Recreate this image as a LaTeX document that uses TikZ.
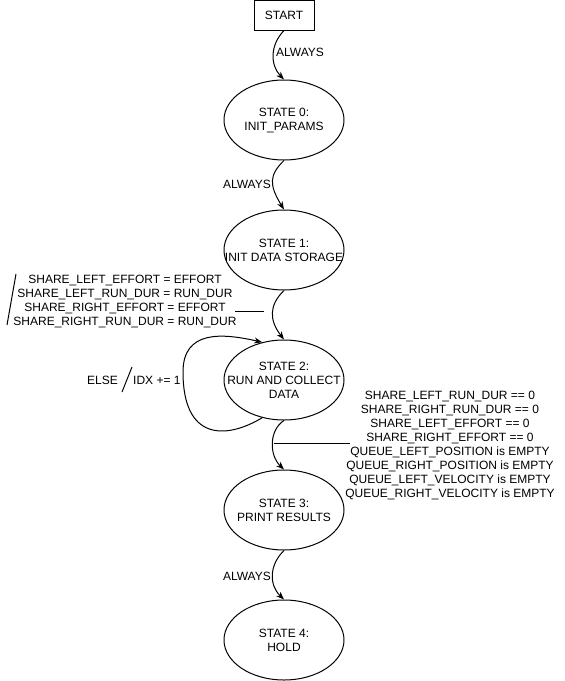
\documentclass[tikz,border=0pt]{standalone}
\usepackage{fontspec}
\setmainfont{Liberation Sans}
\usetikzlibrary{shapes.geometric,arrows.meta}
\begin{document}
\begin{tikzpicture}[x=1pt,y=-1pt,
  every node/.style={font=\fontsize{12}{14}\selectfont},
  statebox/.style={draw,line width=1pt,ellipse,minimum width=120pt,minimum height=80pt,inner sep=0pt},
  startbox/.style={draw,line width=1pt,minimum width=60pt,minimum height=30pt,inner sep=0pt},
  lbl/.style={inner sep=0pt,align=center},
  arr/.style={line width=1pt,-{Stealth[length=8pt,width=6pt,inset=2.5pt]}},
  plain/.style={line width=1pt}]
\useasboundingbox (0,0) rectangle (565,681);
\node[startbox] (start) at (284,15) {START};
\node[statebox,label={[lbl]center:STATE 0:\\INIT\_PARAMS}] (s0) at (284,120) {};
\node[statebox,label={[lbl]center:STATE 1:\\INIT DATA STORAGE}] (s1) at (284,250) {};
\node[statebox,label={[lbl]center:STATE 2:\\RUN AND COLLECT\\DATA}] (s2) at (284,380) {};
\node[statebox,label={[lbl]center:STATE 3:\\PRINT RESULTS}] (s3) at (284,510) {};
\node[statebox,label={[lbl]center:STATE 4:\\HOLD}] (s4) at (284,640) {};

\draw[arr] (start.south) .. controls (270,45) and (270,65) .. (s0.north);
\node[lbl,anchor=west] (l0) at (276,52) {ALWAYS};

\draw[arr] (s0.south) .. controls (269,175) and (269,185) .. (s1.north);
\node[lbl,anchor=east] (l1) at (271,184) {ALWAYS};

\draw[arr] (s1.south) .. controls (269,305) and (269,320) .. (s2.north);
\node[lbl] (l2) at (125,301) {SHARE\_LEFT\_EFFORT = EFFORT\\SHARE\_LEFT\_RUN\_DUR = RUN\_DUR\\SHARE\_RIGHT\_EFFORT = EFFORT\\SHARE\_RIGHT\_RUN\_DUR = RUN\_DUR};
\coordinate (l2a) at (7,325);
\coordinate (l2b) at (16,274);
\draw[plain] (l2a) -- (l2b);
\coordinate (l2c) at (235,311);
\coordinate (l2d) at (264,311);
\draw[plain] (l2c) -- (l2d);

\draw[arr] (s2.240) .. controls (225,440) and (183,440) .. (183,372) .. controls (183,330) and (222,333) .. (s2.120);
\node[lbl,anchor=east] (else) at (118,380) {ELSE};
\node[lbl,anchor=west] (idx) at (133,380) {IDX += 1};
\coordinate (sl1) at (122,392);
\coordinate (sl2) at (132,367);
\draw[plain] (sl1) -- (sl2);

\draw[arr] (s2.south) .. controls (269,430) and (269,455) .. (s3.north);
\node[lbl] (l3) at (450,445) {SHARE\_LEFT\_RUN\_DUR == 0\\SHARE\_RIGHT\_RUN\_DUR == 0\\SHARE\_LEFT\_EFFORT == 0\\SHARE\_RIGHT\_EFFORT == 0\\QUEUE\_LEFT\_POSITION is EMPTY\\QUEUE\_RIGHT\_POSITION is EMPTY\\QUEUE\_LEFT\_VELOCITY is EMPTY\\QUEUE\_RIGHT\_VELOCITY is EMPTY};
\coordinate (l3a) at (274,443);
\coordinate (l3b) at (350,443);
\draw[plain] (l3a) -- (l3b);

\draw[arr] (s3.south) .. controls (269,565) and (269,585) .. (s4.north);
\node[lbl,anchor=east] (l4) at (271,576) {ALWAYS};
\end{tikzpicture}
\end{document}
